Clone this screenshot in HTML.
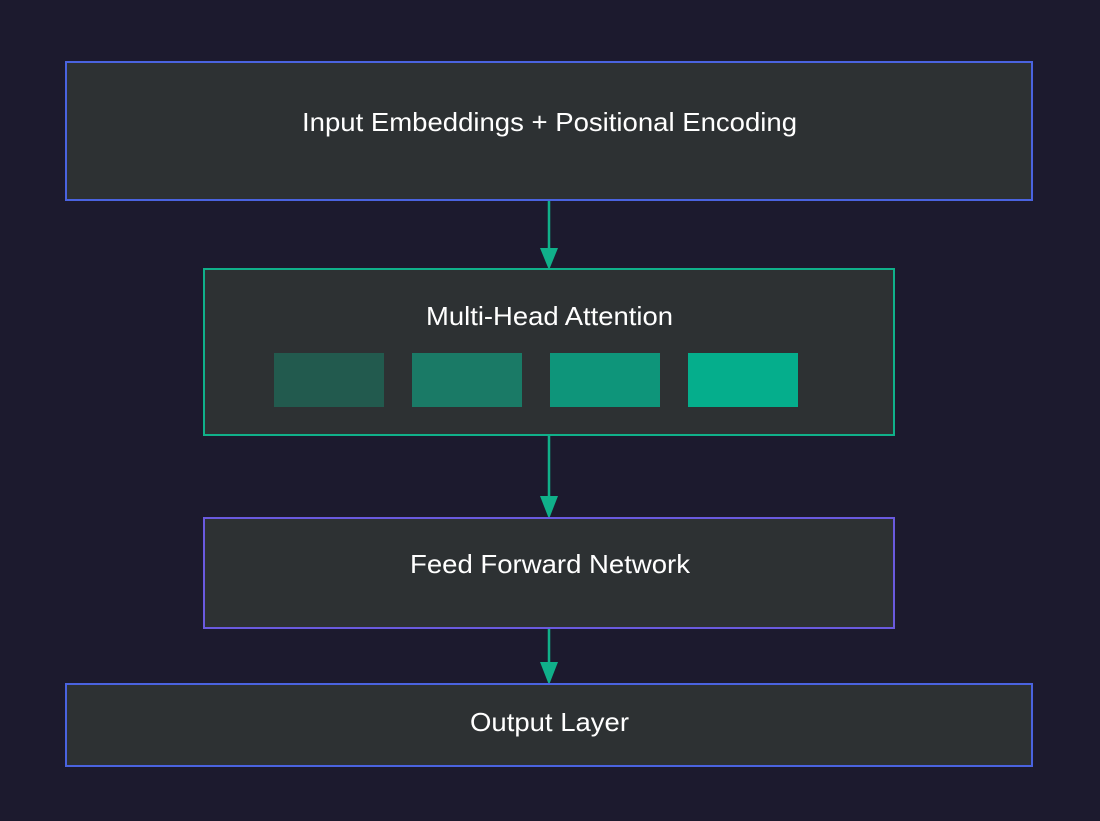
<!DOCTYPE html>
<html><head><style>html,body{margin:0;padding:0;background:#1c1a2e;}svg{display:block}</style></head>
<body>
<svg width="1100" height="821" viewBox="0 0 1100 821" xmlns="http://www.w3.org/2000/svg" font-family="Liberation Sans, Arial, sans-serif" font-size="26" fill="#fff">
<rect x="0" y="0" width="1100" height="821" fill="#1c1a2e"/>
<rect x="66" y="62" width="966" height="138" fill="#2d3133" stroke="#4a63e0" stroke-width="2"/>
<text x="302" y="131" textLength="495" lengthAdjust="spacingAndGlyphs" fill="#fff">Input Embeddings + Positional Encoding</text>
<line x1="549" y1="201" x2="549" y2="252" stroke="#10b08a" stroke-width="2.5"/>
<polygon points="540,248 558,248 549,270" fill="#10b08a"/>
<rect x="204" y="269" width="690" height="166" fill="#2d3133" stroke="#10b08a" stroke-width="2"/>
<text x="426" y="325" textLength="247" lengthAdjust="spacingAndGlyphs" fill="#fff">Multi-Head Attention</text>
<rect x="274" y="353" width="110" height="54" fill="#225a4e"/>
<rect x="412" y="353" width="110" height="54" fill="#1a7a66"/>
<rect x="550" y="353" width="110" height="54" fill="#0e957a"/>
<rect x="688" y="353" width="110" height="54" fill="#05ae8c"/>
<line x1="549" y1="436" x2="549" y2="500" stroke="#10b08a" stroke-width="2.5"/>
<polygon points="540,496 558,496 549,519" fill="#10b08a"/>
<rect x="204" y="518" width="690" height="110" fill="#2d3133" stroke="#6a5adf" stroke-width="2"/>
<text x="410" y="573" textLength="280" lengthAdjust="spacingAndGlyphs" fill="#fff">Feed Forward Network</text>
<line x1="549" y1="629" x2="549" y2="666" stroke="#10b08a" stroke-width="2.5"/>
<polygon points="540,662 558,662 549,685" fill="#10b08a"/>
<rect x="66" y="684" width="966" height="82" fill="#2d3133" stroke="#4a63e0" stroke-width="2"/>
<text x="470" y="731" textLength="159" lengthAdjust="spacingAndGlyphs" fill="#fff">Output Layer</text>
</svg>
</body></html>
